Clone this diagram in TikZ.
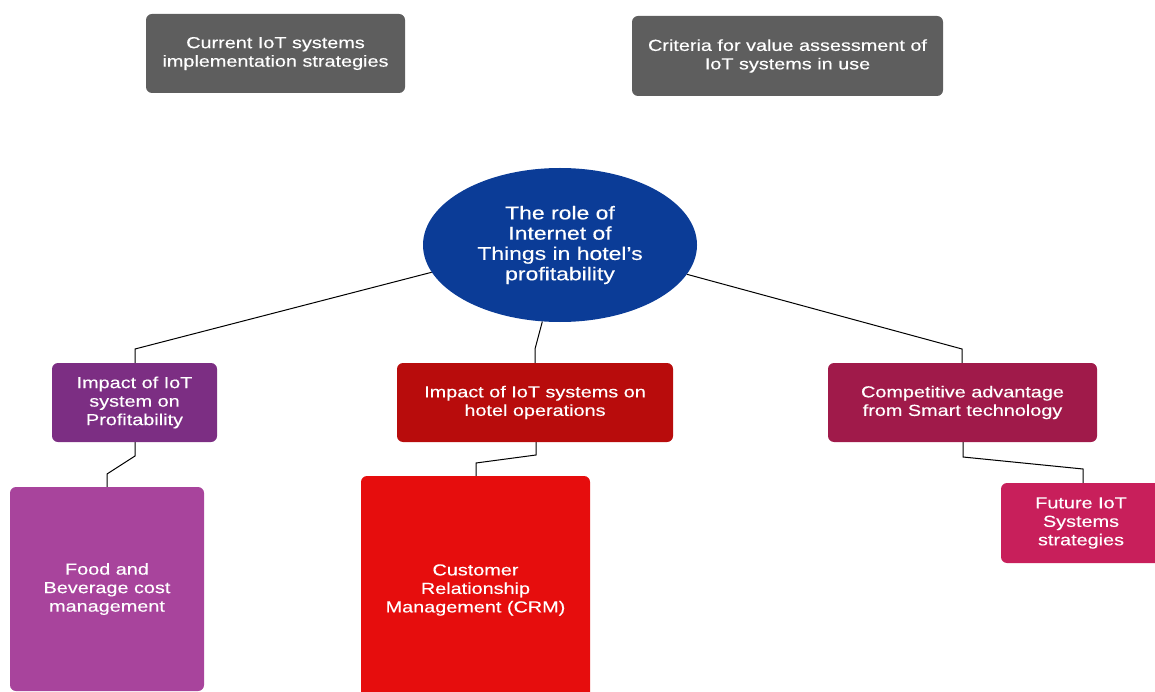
\documentclass[tikz,border=0pt]{standalone}
\usepackage{fontspec}
\setmainfont[FakeStretch=1.24,FakeBold=0.3]{Liberation Sans}
\usetikzlibrary{shapes.geometric}
\pgfdeclarelayer{background}
\pgfsetlayers{background,main}
\definecolor{cgrey}{HTML}{5E5E5E}
\definecolor{cblue}{HTML}{0B3C97}
\definecolor{cpurple}{HTML}{7C2E83}
\definecolor{cred}{HTML}{B80C0C}
\definecolor{ccrimson}{HTML}{A01A4A}
\definecolor{cmagenta}{HTML}{A8449C}
\definecolor{cbright}{HTML}{E60D0D}
\definecolor{cpink}{HTML}{C81F5B}
\tikzset{
  box/.style={rectangle, rounded corners=6pt, inner sep=0pt, align=center,
    text=white, font=\fontsize{16}{18.5}\selectfont},
  hub/.style={ellipse, inner sep=0pt, align=center, fill=cblue,
    text=white, font=\fontsize{18.5}{20.3}\selectfont,
    minimum width=274pt, minimum height=154pt},
  link/.style={draw=black, line width=1pt}
}
\begin{document}
\begin{tikzpicture}[x=1pt,y=-1pt]
\useasboundingbox (0,0) rectangle (1155,692);
% top grey boxes
\node[box, fill=cgrey, minimum width=259pt, minimum height=79pt] (cur) at (275.5,53.5)
  {Current IoT systems\\implementation strategies};
\node[box, fill=cgrey, minimum width=311pt, minimum height=80pt] (crit) at (787.5,56)
  {Criteria for value assessment of\\IoT systems in use};
% hub
\node[hub] (root) at (560,245)
  {The role of\\Internet of\\Things in hotel’s\\profitability};
% second row
\node[box, fill=cpurple, minimum width=165pt, minimum height=79pt] (prof) at (134.5,402.5)
  {Impact of IoT\\system on\\Profitability};
\node[box, fill=cred, minimum width=276pt, minimum height=79pt] (ops) at (535,402.5)
  {Impact of IoT systems on\\hotel operations};
\node[box, fill=ccrimson, minimum width=269pt, minimum height=79pt] (comp) at (962.5,402.5)
  {Competitive advantage\\from Smart technology};
% third row
\node[box, fill=cmagenta, minimum width=194pt, minimum height=204pt] (food) at (107,589)
  {Food and\\Beverage cost\\management};
\node[box, fill=cpink, minimum width=160pt, minimum height=80pt] (fut) at (1081,523)
  {Future IoT\\Systems\\strategies};
\begin{scope}
\clip (0,0) rectangle (1155,692);
\node[box, fill=cbright, minimum width=229pt, minimum height=228pt] (crm) at (475.5,590)
  {Customer\\Relationship\\Management (CRM)};
\end{scope}
% connectors
\coordinate (a1) at (135,349);
\coordinate (b1) at (535,349);
\coordinate (c1) at (962,349);
\coordinate (d1) at (135,456);
\coordinate (d2) at (107,474);
\coordinate (e1) at (536,455);
\coordinate (e2) at (476,463);
\coordinate (f1) at (963,457);
\coordinate (f2) at (1083,469);
\begin{pgfonlayer}{background}
\draw[link] (root.192.5) -- (a1) -- (prof.north -| a1);
\draw[link] (root.-103) -- (b1) -- (ops.north -| b1);
\draw[link] (root.-13.5) -- (c1) -- (comp.north -| c1);
\draw[link] (prof.south -| d1) -- (d1) -- (d2) -- (food.north -| d2);
\draw[link] (ops.south -| e1) -- (e1) -- (e2) -- (crm.north -| e2);
\draw[link] (comp.south -| f1) -- (f1) -- (f2) -- (fut.north -| f2);
\end{pgfonlayer}
\end{tikzpicture}
\end{document}
